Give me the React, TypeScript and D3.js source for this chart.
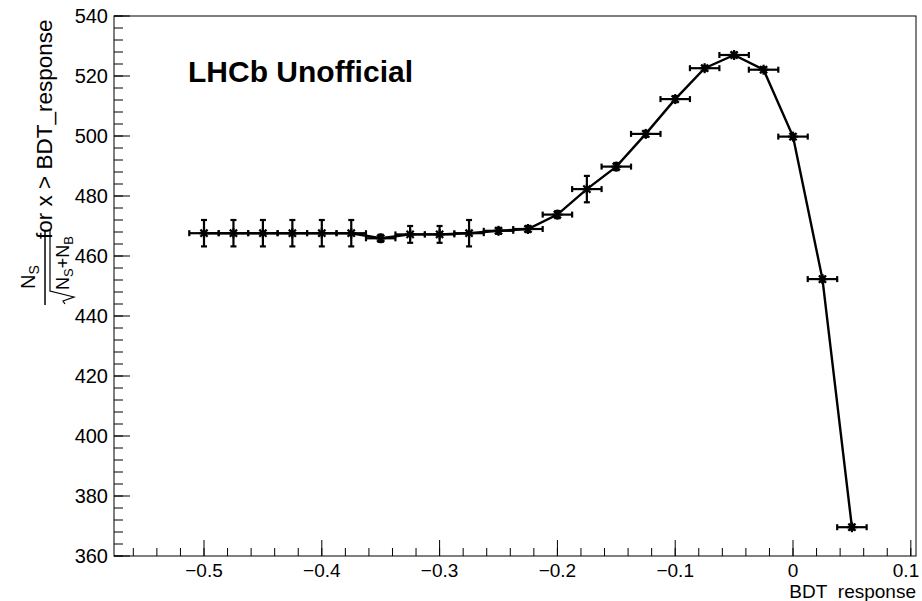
import React from 'react';
import * as d3 from 'd3';

// BDT cut scan: significance vs cut value
const cutValues = [
  -0.5, -0.475, -0.45, -0.425, -0.4, -0.375, -0.35, -0.325, -0.3, -0.275, -0.25, -0.225,
  -0.2, -0.175, -0.15, -0.125, -0.1, -0.075, -0.05, -0.025, 0, 0.025, 0.05,
];
const significance = [
  467.6, 467.6, 467.6, 467.6, 467.6, 467.6, 465.9, 467.2, 467.2, 467.6, 468.4, 469.0,
  473.8, 482.3, 489.8, 500.7, 512.3, 522.6, 527.0, 522.1, 499.8, 452.3, 369.6,
];
const sigErrors = [
  4.4, 4.4, 4.4, 4.4, 4.4, 4.4, 1.2, 2.8, 2.8, 4.4, 1.0, 1.0,
  1.2, 4.4, 1.2, 1.0, 1.0, 0.8, 0.8, 0.8, 0.8, 0.8, 0.8,
];
const binHalfWidth = 0.0125;

const xMajorTicks = [-0.5, -0.4, -0.3, -0.2, -0.1, 0, 0.1];
const yMajorTicks = [360, 380, 400, 420, 440, 460, 480, 500, 520, 540];

const W = 922;
const H = 601;
const frame = { left: 114, right: 916, top: 16, bottom: 556 };
const font = "'Liberation Sans', Arial, Helvetica, sans-serif";

export default function App() {
  const x = d3.scaleLinear().domain([-0.5764, 0.1044]).range([frame.left, frame.right]);
  const y = d3.scaleLinear().domain([360, 540]).range([frame.bottom, frame.top]);

  const points = cutValues.map((c, i) => ({ c, v: significance[i], e: sigErrors[i] }));

  const line = d3
    .line<{ c: number; v: number }>()
    .x((d) => x(d.c))
    .y((d) => y(d.v));

  const [x0, x1] = x.domain();
  const xMinor = d3.range(-0.58, 0.11, 0.02).filter((t) => t >= x0 && t <= x1);
  const yMinor = d3.range(360, 541, 4);

  const fmtX = (t: number) => (Math.abs(t) < 1e-9 ? '0' : d3.format('.1f')(t));

  // asterisk marker
  const star = (cx: number, cy: number, key: number) => {
    const r = 5;
    const d = r * 0.72;
    return (
      <g key={'m' + key} stroke="#000" strokeWidth={2.2}>
        <line x1={cx - r} y1={cy} x2={cx + r} y2={cy} />
        <line x1={cx} y1={cy - r} x2={cx} y2={cy + r} />
        <line x1={cx - d} y1={cy - d} x2={cx + d} y2={cy + d} />
        <line x1={cx - d} y1={cy + d} x2={cx + d} y2={cy - d} />
      </g>
    );
  };

  return (
    <svg
      width={W}
      height={H}
      style={{ position: 'absolute', left: 0, top: 0, background: '#fff' }}
      fontFamily={font}
    >
      <rect x={0} y={0} width={W} height={H} fill="#fff" />

      {/* frame */}
      <rect
        x={frame.left}
        y={frame.top}
        width={frame.right - frame.left}
        height={frame.bottom - frame.top}
        fill="none"
        stroke="#000"
        strokeWidth={1}
      />

      {/* y axis ticks */}
      {yMinor.map((t) => (
        <line key={'ym' + t} x1={frame.left} x2={frame.left + 9} y1={y(t)} y2={y(t)} stroke="#000" />
      ))}
      {yMajorTicks.map((t) => (
        <g key={'y' + t}>
          <line x1={frame.left} x2={frame.left + 16} y1={y(t)} y2={y(t)} stroke="#000" />
          <text x={frame.left - 6} y={y(t)} dy="0.36em" textAnchor="end" fontSize={20}>
            {t}
          </text>
        </g>
      ))}

      {/* x axis ticks */}
      {xMinor.map((t) => (
        <line key={'xm' + t} x1={x(t)} x2={x(t)} y1={frame.bottom} y2={frame.bottom - 8} stroke="#000" />
      ))}
      {xMajorTicks.map((t) => (
        <g key={'x' + t}>
          <line x1={x(t)} x2={x(t)} y1={frame.bottom} y2={frame.bottom - 16} stroke="#000" />
          <text x={Math.min(x(t), 906)} y={577} textAnchor="middle" fontSize={19}>
            {fmtX(t)}
          </text>
        </g>
      ))}

      {/* axis titles */}
      <text x={frame.right} y={598} textAnchor="end" fontSize={19}>
        BDT_response
      </text>

      <g transform="translate(45,305) rotate(-90)" fontSize={20}>
        {/* numerator */}
        <text x={16} y={-10}>
          N<tspan fontSize={14} dy={4}>S</tspan>
        </text>
        {/* fraction bar */}
        <line x1={0} x2={75} y1={0} y2={0} stroke="#000" strokeWidth={1.5} />
        {/* sqrt */}
        <path d="M1,20 L4,18 L8,29 L14,5 L76,5" fill="none" stroke="#000" strokeWidth={1.2} />
        <text x={15} y={24} fontSize={18}>
          N<tspan fontSize={13} dy={4}>S</tspan>
          <tspan dy={-4}>+N</tspan>
          <tspan fontSize={13} dy={4}>B</tspan>
        </text>
        <text x={66} y={7} fontSize={22.5}>
          for x &gt; BDT_response
        </text>
      </g>

      {/* connecting line */}
      <path d={line(points) || ''} fill="none" stroke="#000" strokeWidth={2.4} />

      {/* error bars */}
      {points.map((p, i) => {
        const cx = x(p.c);
        const cy = y(p.v);
        const xl = x(p.c - binHalfWidth);
        const xr = x(p.c + binHalfWidth);
        const yt = y(p.v + p.e);
        const yb = y(p.v - p.e);
        return (
          <g key={'e' + i} stroke="#000" strokeWidth={2.2}>
            <line x1={xl} x2={xr} y1={cy} y2={cy} />
            <line x1={xl} x2={xl} y1={cy - 3} y2={cy + 3} />
            <line x1={xr} x2={xr} y1={cy - 3} y2={cy + 3} />
            <line x1={cx} x2={cx} y1={yt} y2={yb} />
            <line x1={cx - 3} x2={cx + 3} y1={yt} y2={yt} />
            <line x1={cx - 3} x2={cx + 3} y1={yb} y2={yb} />
          </g>
        );
      })}

      {/* markers */}
      {points.map((p, i) => star(x(p.c), y(p.v), i))}

      <text x={188} y={82} fontSize={30} fontWeight="bold">
        LHCb Unofficial
      </text>
    </svg>
  );
}
